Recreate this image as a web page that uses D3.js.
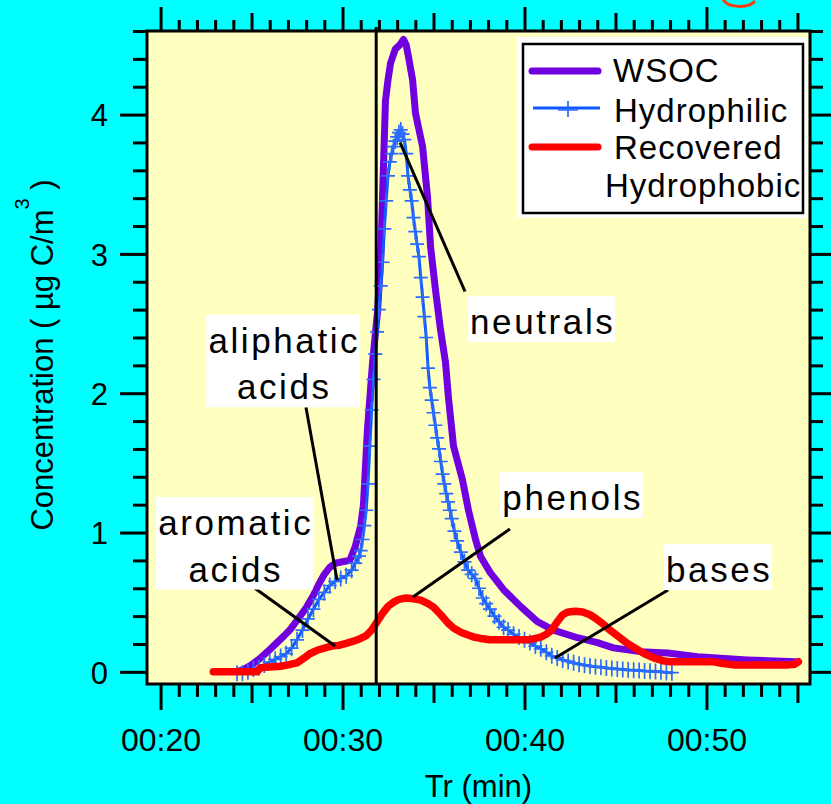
<!DOCTYPE html>
<html>
<head>
<meta charset="utf-8">
<script src="https://cdn.jsdelivr.net/npm/d3@7"></script>
<style>
body { margin: 0; background: #00ffff; }
svg { display: block; font-family: "Liberation Sans", Arial, sans-serif; }
</style>
</head>
<body>
<div id="chart"></div>
<script>
// retention time (min), concentration (ug C/m3)
var wsoc = [[24.2,0.00],[24.6,0.02],[25.0,0.05],[25.5,0.10],[26.0,0.16],[26.4,0.21],[26.8,0.26],[27.1,0.30],
  [27.5,0.37],[28.0,0.46],[28.4,0.55],[28.7,0.63],[29.0,0.70],[29.3,0.75],[29.6,0.78],[30.0,0.79],[30.4,0.80],
  [30.7,0.90],[31.0,1.05],[31.15,1.20],[31.37,1.74],[31.65,2.22],[31.92,2.58],[32.09,2.94],[32.2,3.41],
  [32.36,4.10],[32.5,4.25],[32.64,4.37],[32.9,4.47],[33.15,4.50],[33.35,4.54],[33.5,4.50],[33.63,4.41],
  [33.85,4.25],[34.01,4.01],[34.4,3.77],[34.67,3.41],[34.84,3.05],[35.11,2.74],[35.38,2.46],[35.66,2.22],
  [35.82,1.97],[36.1,1.62],[36.59,1.38],[36.92,1.16],[37.31,0.95],[37.58,0.83],[38.13,0.71],[38.85,0.59],
  [39.78,0.47],[40.71,0.36],[41.59,0.30],[42.91,0.245],[44.01,0.21],[44.89,0.172],[46.37,0.145],
  [47.86,0.136],[49.51,0.108],[52.25,0.086],[54.9,0.072]];

var hydrophilic = [[24.2,-0.01],[24.5,-0.01],[24.8,0.00],[25.1,0.02],[25.4,0.03],[25.7,0.05],[26.0,0.07],
  [26.3,0.09],[26.6,0.11],[26.9,0.13],[27.2,0.17],[27.5,0.23],[27.8,0.30],[28.1,0.38],[28.4,0.45],[28.7,0.52],
  [29.0,0.57],[29.3,0.62],[29.6,0.65],[29.9,0.67],[30.2,0.69],[30.5,0.73],[30.7,0.78],[30.9,0.83],[31.0,0.87],
  [31.1,0.95],[31.2,1.05],[31.3,1.16],[31.4,1.35],[31.5,1.62],[31.6,1.88],[31.7,2.10],[31.8,2.28],[31.9,2.44],
  [32.0,2.60],[32.1,2.77],[32.2,2.94],[32.3,3.18],[32.4,3.38],[32.5,3.56],[32.6,3.66],[32.7,3.72],[32.8,3.77],
  [32.9,3.81],[33.0,3.84],[33.1,3.87],[33.2,3.89],[33.3,3.86],[33.4,3.82],[33.5,3.72],[33.6,3.56],[33.7,3.46],
  [33.8,3.38],[33.9,3.26],[34.0,3.16],[34.1,3.07],[34.2,2.98],[34.3,2.83],[34.4,2.69],[34.5,2.55],[34.6,2.40],
  [34.7,2.18],[34.8,2.04],[34.9,1.95],[35.0,1.86],[35.1,1.77],[35.2,1.68],[35.3,1.60],[35.4,1.51],[35.5,1.42],
  [35.6,1.35],[35.7,1.28],[35.8,1.22],[35.9,1.16],[36.0,1.10],[36.15,1.01],[36.3,0.94],[36.5,0.86],[36.7,0.79],
  [36.9,0.73],[37.1,0.70],[37.3,0.67],[37.5,0.60],[37.7,0.53],[37.9,0.49],[38.1,0.45],[38.35,0.40],[38.6,0.36],
  [38.85,0.32],[39.1,0.30],[39.4,0.27],[39.7,0.25],[40.0,0.23],[40.3,0.21],[40.6,0.185],[40.9,0.165],
  [41.2,0.14],[41.5,0.115],[41.8,0.10],[42.1,0.085],[42.4,0.075],[42.7,0.065],[43.0,0.055],[43.3,0.048],
  [43.6,0.042],[43.9,0.037],[44.2,0.033],[44.5,0.028],[44.8,0.024],[45.1,0.02],[45.4,0.017],[45.7,0.014],
  [46.0,0.012],[46.3,0.009],[46.6,0.006],[46.9,0.004],[47.2,0.002],[47.5,0.00],[47.8,-0.004],[48.1,-0.006]];

var hydrophobic = [[22.9,0.00],[23.5,0.00],[24.2,0.00],[24.8,0.00],[25.3,0.00],[25.5,0.03],[26.0,0.035],
  [26.6,0.04],[27.0,0.05],[27.5,0.065],[27.9,0.10],[28.2,0.13],[28.6,0.155],[29.0,0.17],[29.4,0.185],[29.8,0.19],
  [30.2,0.205],[30.6,0.22],[31.0,0.24],[31.3,0.26],[31.6,0.30],[31.9,0.36],[32.2,0.42],[32.5,0.47],[32.8,0.50],
  [33.1,0.52],[33.5,0.53],[33.9,0.525],[34.3,0.515],[34.7,0.49],[35.0,0.465],[35.4,0.41],[35.8,0.35],
  [36.1,0.315],[36.5,0.285],[36.9,0.265],[37.2,0.25],[37.6,0.24],[38.1,0.23],[38.7,0.23],[39.3,0.23],[39.8,0.23],
  [40.2,0.23],[40.6,0.24],[40.9,0.25],[41.2,0.27],[41.5,0.30],[41.8,0.36],[42.1,0.41],[42.4,0.43],[42.8,0.435],
  [43.2,0.43],[43.6,0.41],[43.9,0.385],[44.3,0.345],[44.6,0.31],[45.0,0.27],[45.3,0.24],[45.7,0.20],[46.2,0.16],
  [46.6,0.13],[47.1,0.10],[47.6,0.08],[48.0,0.072],[48.8,0.072],[49.6,0.072],[50.4,0.072],[50.9,0.06],
  [51.5,0.05],[52.5,0.05],[53.5,0.05],[54.5,0.05],[54.85,0.055],[55.05,0.072]];

var seriesNames = ["WSOC", "Hydrophilic", "Recovered Hydrophobic"];
var xMajor = [20, 30, 40, 50];
var xMid = [25, 35, 45, 55];
var yMajor = [0, 1, 2, 3, 4];
var markerTime = 31.85;   // vertical marker line

var labelText = [["neutrals"], ["aliphatic", "acids"], ["aromatic", "acids"], ["phenols"], ["bases"]];

// label layout (data coords): text centre / first baseline, leader start, leader end
var labelAt = [[40.93, 2.425], [26.73, 2.29], [24.06, 0.982], [42.58, 1.162], [50.63, 0.645]];
var leaderFrom = [[33.16, 3.80], [29.70, 0.66], [29.59, 0.186], [33.87, 0.537], [41.68, 0.099]];
var leaderTo = [[36.73, 2.73], [27.99, 1.90], [25.08, 0.61], [39.20, 1.025], [47.89, 0.588]];

var svgWidth = 831, svgHeight = 804;
var plot = {left: 147, right: 810, top: 31, bottom: 684};

var svg = d3.select("#chart").append("svg")
  .attr("width", svgWidth)
  .attr("height", svgHeight);

var x = d3.scaleLinear().domain([19.2, 55.8]).range([146, 812]);
var y = d3.scaleLinear().domain([-0.08, 4.6]).range([683, 31]);

var xMinor = d3.range(20, 56).filter(function(d) { return d % 5 !== 0; });
var yMinor = d3.range(0, 4.61, 0.2).filter(function(d) { return Math.abs(d - Math.round(d)) > 0.01; });

// plot background + frame
svg.append("rect")
  .attr("x", plot.left).attr("y", plot.top)
  .attr("width", plot.right - plot.left).attr("height", plot.bottom - plot.top)
  .attr("fill", "#ffffc0")
  .attr("stroke", "black")
  .attr("stroke-width", 3);

// tick helper
function ticks(axisFn, values, size, translate) {
  var g = svg.append("g")
    .attr("transform", translate)
    .call(axisFn.tickValues(values).tickSize(size).tickSizeOuter(0).tickFormat(""));
  g.select(".domain").remove();
  g.selectAll("line").attr("stroke", "black").attr("stroke-width", 3);
  return g;
}

// bottom
ticks(d3.axisBottom(x), xMinor, 13, "translate(0," + plot.bottom + ")");
ticks(d3.axisBottom(x), xMid, 19, "translate(0," + plot.bottom + ")");
var xg = ticks(d3.axisBottom(x), xMajor, 26, "translate(0," + plot.bottom + ")");
xg.selectAll(".tick").append("text")
  .attr("y", 67)
  .attr("fill", "black")
  .attr("text-anchor", "middle")
  .attr("font-size", 32)
  .text(function(d) { return "00:" + d; });

// top
ticks(d3.axisTop(x), xMinor, 11, "translate(0," + plot.top + ")");
ticks(d3.axisTop(x), xMid, 18, "translate(0," + plot.top + ")");
ticks(d3.axisTop(x), xMajor, 24, "translate(0," + plot.top + ")");

// left
ticks(d3.axisLeft(y), yMinor, 14, "translate(" + plot.left + ",0)");
var yg = ticks(d3.axisLeft(y), yMajor, 27, "translate(" + plot.left + ",0)");
yg.selectAll(".tick").append("text")
  .attr("x", -39)
  .attr("dy", "0.36em")
  .attr("fill", "black")
  .attr("text-anchor", "end")
  .attr("font-size", 31)
  .text(function(d) { return d; });

// right
ticks(d3.axisRight(y), yMinor, 13, "translate(" + plot.right + ",0)");
ticks(d3.axisRight(y), yMajor, 22, "translate(" + plot.right + ",0)");

// axis titles
svg.append("text")
  .attr("x", (plot.left + plot.right) / 2)
  .attr("y", 797)
  .attr("text-anchor", "middle")
  .attr("font-size", 31)
  .text("Tr (min)");

var yTitle = svg.append("text")
  .attr("transform", "translate(53,355) rotate(-90)")
  .attr("text-anchor", "middle")
  .attr("font-size", 31);
yTitle.append("tspan").text("Concentration ( \u00b5g C/m");
yTitle.append("tspan").attr("font-size", 20).attr("dy", -24).text("3");
yTitle.append("tspan").attr("dy", 24).text(" )");

// curves
var line = d3.line()
  .x(function(d) { return x(d[0]); })
  .y(function(d) { return y(d[1]); });

svg.append("path")
  .datum(wsoc)
  .attr("d", line)
  .attr("fill", "none")
  .attr("stroke", "#7000e0")
  .attr("stroke-width", 7)
  .attr("stroke-linejoin", "round")
  .attr("stroke-linecap", "round");

svg.append("path")
  .datum(hydrophilic)
  .attr("d", line)
  .attr("fill", "none")
  .attr("stroke", "#1058ff")
  .attr("stroke-width", 3)
  .attr("stroke-linejoin", "round");

svg.append("g").selectAll("path")
  .data(hydrophilic)
  .enter()
  .append("path")
  .attr("d", function(d) {
    var px = x(d[0]), py = y(d[1]);
    return "M" + (px - 7) + "," + py + "H" + (px + 7) + "M" + px + "," + (py - 8) + "V" + (py + 8);
  })
  .attr("stroke", "#2a6cff")
  .attr("stroke-width", 1.7);

svg.append("path")
  .datum(hydrophobic)
  .attr("d", line)
  .attr("fill", "none")
  .attr("stroke", "#ff0000")
  .attr("stroke-width", 7.5)
  .attr("stroke-linejoin", "round")
  .attr("stroke-linecap", "round");

// vertical marker
svg.append("line")
  .attr("x1", x(markerTime)).attr("x2", x(markerTime))
  .attr("y1", plot.top - 4).attr("y2", plot.bottom)
  .attr("stroke", "black")
  .attr("stroke-width", 3);

// annotation leaders
labelText.forEach(function(lines, i) {
  svg.append("line")
    .attr("x1", x(leaderFrom[i][0])).attr("y1", y(leaderFrom[i][1]))
    .attr("x2", x(leaderTo[i][0])).attr("y2", y(leaderTo[i][1]))
    .attr("stroke", "black")
    .attr("stroke-width", 3);
});

// annotation labels
labelText.forEach(function(lines, i) {
  var cx = x(labelAt[i][0]), by = y(labelAt[i][1]);
  var g = svg.append("g");
  var box = g.append("rect").attr("fill", "white");
  var t = g.append("text")
    .attr("text-anchor", "middle")
    .attr("font-size", 35)
    .attr("letter-spacing", 2.6);
  lines.forEach(function(s, j) {
    t.append("tspan").attr("x", cx + 1.3).attr("y", by + j * 46.5).text(s);
  });
  var bb = t.node().getBBox();
  box.attr("x", cx - bb.width / 2 - 1)
    .attr("y", by - 38)
    .attr("width", bb.width + 2)
    .attr("height", (lines.length - 1) * 46.5 + 46);
});

// legend
svg.append("rect")
  .attr("x", 517).attr("y", 37).attr("width", 291).attr("height", 181)
  .attr("fill", "white");
svg.append("rect")
  .attr("x", 523).attr("y", 44).attr("width", 280).attr("height", 169)
  .attr("fill", "white")
  .attr("stroke", "black")
  .attr("stroke-width", 2.5);

var legend = svg.append("g").attr("font-size", 33).attr("letter-spacing", 1);
legend.append("line").attr("x1", 532).attr("x2", 598).attr("y1", 71).attr("y2", 71)
  .attr("stroke", "#7000e0").attr("stroke-width", 7).attr("stroke-linecap", "round");
legend.append("text").attr("x", 613).attr("y", 82).text(seriesNames[0]);

legend.append("line").attr("x1", 533).attr("x2", 600).attr("y1", 108).attr("y2", 108)
  .attr("stroke", "#1058ff").attr("stroke-width", 3);
legend.append("path").attr("d", "M558,110H578M568,101V117")
  .attr("stroke", "#2a6cff").attr("stroke-width", 1.7);
legend.append("text").attr("x", 614).attr("y", 122).text(seriesNames[1]);

legend.append("line").attr("x1", 532).attr("x2", 598).attr("y1", 147).attr("y2", 147)
  .attr("stroke", "#ff0000").attr("stroke-width", 7).attr("stroke-linecap", "round");
legend.append("text").attr("x", 614).attr("y", 159).text("Recovered");
legend.append("text").attr("x", 605).attr("y", 197).text("Hydrophobic");

// cut-off orange mark at top
svg.append("path")
  .attr("d", "M723,-1C727,8 748,9 755,1")
  .attr("fill", "none")
  .attr("stroke", "#ff3a10")
  .attr("stroke-width", 3);
</script>
</body>
</html>
